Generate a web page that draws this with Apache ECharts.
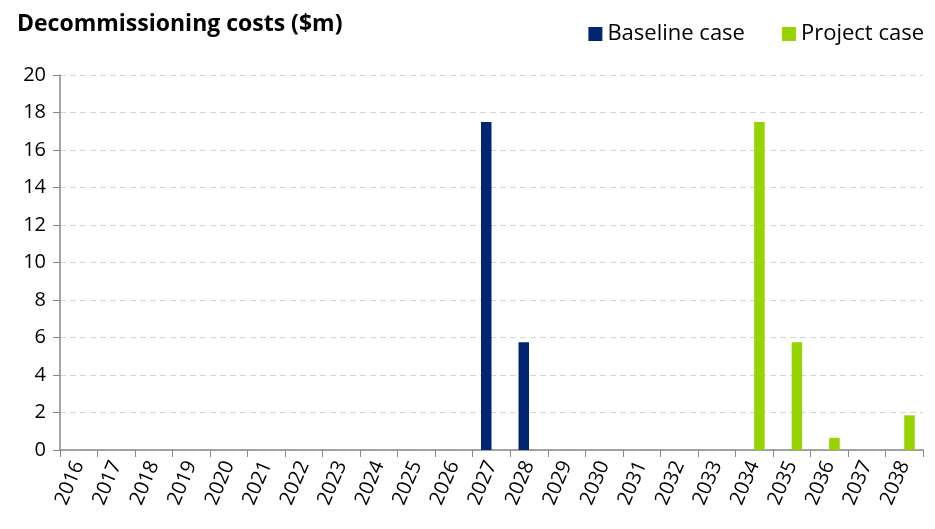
<!DOCTYPE html>
<html>
<head>
<meta charset="utf-8">
<script src="https://cdn.jsdelivr.net/npm/echarts@6/dist/echarts.min.js"></script>
<style>
  html, body { margin: 0; padding: 0; background: #fff; }
  #chart { width: 935px; height: 529px; }
</style>
</head>
<body>
<div id="chart"></div>
<script>
// 数据
const years = ['2016', '2017', '2018', '2019', '2020', '2021', '2022', '2023', '2024', '2025', '2026', '2027',
    '2028', '2029', '2030', '2031', '2032', '2033', '2034', '2035', '2036', '2037', '2038'];
const baselineCase = [0, 0, 0, 0, 0, 0, 0, 0, 0, 0, 0, 17.5, 5.75, 0, 0, 0, 0, 0, 0, 0, 0, 0, 0];
const projectCase = [0, 0, 0, 0, 0, 0, 0, 0, 0, 0, 0, 0, 0, 0, 0, 0, 0, 0, 17.5, 5.75, 0.65, 0, 1.85];
const seriesNames = ['Baseline case', 'Project case'];

const fontFamily = 'Open Sans, Noto Sans, sans-serif';

const chart = echarts.init(document.getElementById('chart'));
chart.setOption({
    animation: false,
    title: {
        text: 'Decommissioning costs ($m)',
        left: 12,
        top: 8,
        textStyle: { fontFamily: fontFamily, fontSize: 23, fontWeight: 'bold', color: '#000' }
    },
    legend: {
        data: seriesNames,
        right: 6,
        top: 18,
        itemWidth: 14,
        itemHeight: 14,
        itemGap: 37,
        icon: 'rect',
        textStyle: { fontFamily: fontFamily, fontSize: 22, color: '#000' }
    },
    grid: { left: 60, right: 12, top: 75, bottom: 79 },
    xAxis: {
        type: 'category',
        data: years,
        axisLine: { lineStyle: { color: '#888', width: 1.5 } },
        axisTick: { show: true, length: 7, lineStyle: { color: '#888' } },
        axisLabel: {
            rotate: 67,
            interval: 0,
            fontFamily: fontFamily,
            fontSize: 20,
            color: '#000',
            margin: 12
        }
    },
    yAxis: {
        type: 'value',
        min: 0,
        max: 20,
        interval: 2,
        axisLine: { show: true, lineStyle: { color: '#888', width: 1.5 } },
        axisTick: { show: true, length: 7, lineStyle: { color: '#888' } },
        axisLabel: { fontFamily: fontFamily, fontSize: 20, color: '#000', margin: 14 },
        splitLine: { lineStyle: { color: '#d4d4d4', type: [6, 4] } }
    },
    series: [
        {
            name: seriesNames[0],
            type: 'bar',
            data: baselineCase,
            barWidth: 10.5,
            barGap: '0%',
            itemStyle: { color: '#002673' }
        },
        {
            name: seriesNames[1],
            type: 'bar',
            data: projectCase,
            barWidth: 10.5,
            barGap: '0%',
            itemStyle: { color: '#95d400' }
        }
    ]
});
</script>
</body>
</html>
